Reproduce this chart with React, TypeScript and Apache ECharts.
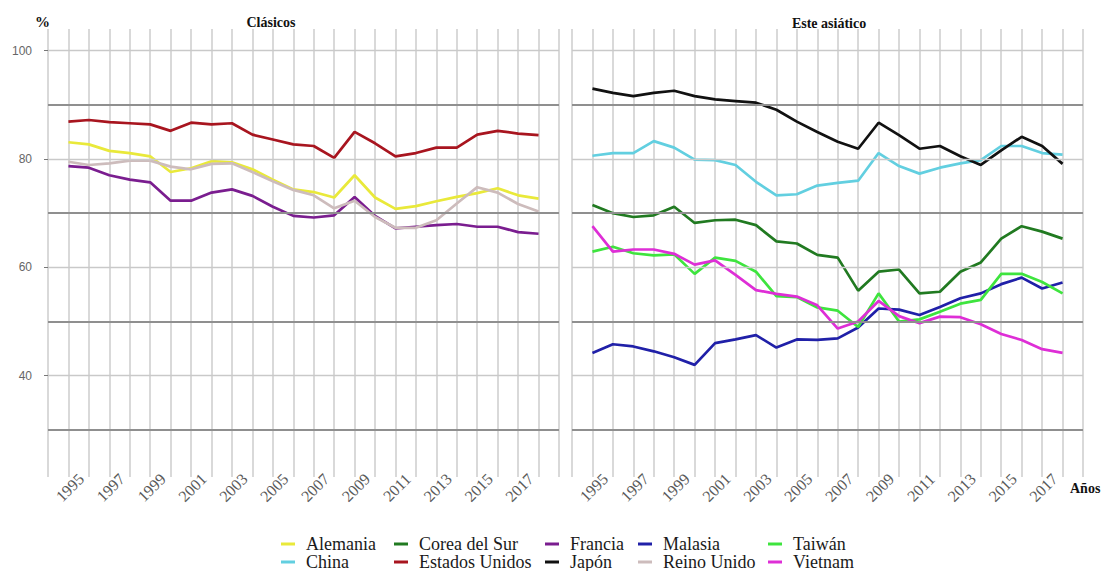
import React, { useEffect, useRef } from "react";
import * as echarts from "echarts";

const years = [1995, 1996, 1997, 1998, 1999, 2000, 2001, 2002, 2003, 2004, 2005, 2006, 2007, 2008, 2009, 2010, 2011, 2012, 2013, 2014, 2015, 2016, 2017, 2018];
const tickLabels = ["1995", "1997", "1999", "2001", "2003", "2005", "2007", "2009", "2011", "2013", "2015", "2017"];
const yLabels = [40, 60, 80, 100];
const gridValues = [30, 40, 50, 60, 70, 80, 90, 100];

const alemania = [83.1, 82.7, 81.5, 81.1, 80.5, 77.6, 78.3, 79.6, 79.4, 78.1, 76.2, 74.4, 73.9, 72.9, 77.0, 72.9, 70.8, 71.3, 72.2, 73.0, 73.7, 74.6, 73.3, 72.7];
const estadosUnidos = [86.9, 87.2, 86.8, 86.6, 86.4, 85.2, 86.7, 86.4, 86.6, 84.5, 83.6, 82.7, 82.4, 80.2, 85.0, 82.9, 80.5, 81.1, 82.1, 82.1, 84.5, 85.2, 84.7, 84.4];
const francia = [78.7, 78.4, 77.0, 76.2, 75.7, 72.3, 72.3, 73.8, 74.4, 73.2, 71.2, 69.5, 69.2, 69.6, 73.0, 69.5, 67.2, 67.5, 67.8, 68.0, 67.5, 67.5, 66.5, 66.2];
const reinoUnido = [79.5, 78.9, 79.2, 79.7, 79.7, 78.6, 78.1, 79.1, 79.2, 77.6, 75.9, 74.3, 73.3, 70.9, 72.3, 69.3, 67.3, 67.3, 68.7, 71.8, 74.8, 73.8, 71.7, 70.3];

const japon = [93.0, 92.2, 91.6, 92.2, 92.6, 91.6, 91.0, 90.7, 90.4, 89.1, 86.9, 85.0, 83.2, 81.9, 86.7, 84.4, 81.9, 82.4, 80.5, 78.9, 81.6, 84.1, 82.4, 79.1];
const china = [80.6, 81.1, 81.1, 83.3, 82.1, 79.9, 79.8, 78.9, 75.8, 73.3, 73.5, 75.1, 75.6, 76.0, 81.1, 78.7, 77.3, 78.4, 79.2, 79.8, 82.4, 82.4, 81.1, 80.8];
const corea = [71.5, 70.0, 69.3, 69.6, 71.2, 68.2, 68.7, 68.8, 67.8, 64.8, 64.4, 62.3, 61.8, 55.7, 59.2, 59.6, 55.2, 55.5, 59.2, 60.9, 65.3, 67.6, 66.6, 65.3];
const taiwan = [62.9, 63.8, 62.6, 62.2, 62.4, 58.8, 61.8, 61.2, 59.2, 54.7, 54.5, 52.6, 52.0, 49.0, 55.2, 50.0, 50.4, 51.8, 53.3, 54.0, 58.8, 58.8, 57.3, 55.2];
const vietnam = [67.6, 62.9, 63.3, 63.3, 62.5, 60.5, 61.3, 58.6, 55.8, 55.1, 54.6, 53.0, 48.7, 50.0, 53.8, 51.0, 49.7, 50.9, 50.8, 49.5, 47.7, 46.6, 44.9, 44.2];
const malasia = [44.2, 45.8, 45.4, 44.5, 43.4, 42.0, 46.0, 46.7, 47.5, 45.2, 46.7, 46.6, 46.9, 48.9, 52.4, 52.2, 51.2, 52.7, 54.3, 55.2, 56.9, 58.1, 56.1, 57.2];

const seriesDefs = [
  { name: "Alemania", data: alemania, panel: 0, color: "#e9e93a" },
  { name: "China", data: china, panel: 1, color: "#62cfe0" },
  { name: "Corea del Sur", data: corea, panel: 1, color: "#217a21" },
  { name: "Estados Unidos", data: estadosUnidos, panel: 0, color: "#a8151f" },
  { name: "Francia", data: francia, panel: 0, color: "#7a1d8f" },
  { name: "Japón", data: japon, panel: 1, color: "#111111" },
  { name: "Malasia", data: malasia, panel: 1, color: "#2020a8" },
  { name: "Reino Unido", data: reinoUnido, panel: 0, color: "#cdbcbc" },
  { name: "Taiwán", data: taiwan, panel: 1, color: "#3ee43e" },
  { name: "Vietnam", data: vietnam, panel: 1, color: "#de2ed6" },
];

const legendRow1 = ["Alemania", "Corea del Sur", "Francia", "Malasia", "Taiwán"];
const legendRow2 = ["China", "Estados Unidos", "Japón", "Reino Unido", "Vietnam"];
const legendCols = [281, 394, 545, 638, 768];

export default function App() {
  const ref = useRef<HTMLDivElement>(null);
  useEffect(() => {
    if (!ref.current) return;
    const chart = echarts.init(ref.current, null, { renderer: "svg" });
    const gridLeft = [48, 572];
    const yMin = 21.3;
    const yMax = 104;

    const markLineData = gridValues.map((v) => ({
      yAxis: v,
      lineStyle: {
        color: v % 20 === 10 ? "#8f8f8f" : "#c9c9c9",
        width: v % 20 === 10 ? 1.8 : 1.4,
        type: "solid",
      },
    }));

    const series: any[] = [];
    [0, 1].forEach((p) => {
      series.push({
        type: "line",
        name: "_grid" + p,
        xAxisIndex: p,
        yAxisIndex: p,
        data: [],
        silent: true,
        z: 1,
        markLine: {
          silent: true,
          symbol: ["none", "none"],
          label: { show: false },
          animation: false,
          data: markLineData,
        },
      });
    });
    seriesDefs.forEach((s) => {
      series.push({
        type: "line",
        name: s.name,
        xAxisIndex: s.panel,
        yAxisIndex: s.panel,
        data: years.map((y, i) => [y, s.data[i]]),
        showSymbol: false,
        symbol: "none",
        lineStyle: { color: s.color, width: 2.7 },
        itemStyle: { color: s.color },
        z: 3,
      });
    });

    const legends: any[] = [];
    [legendRow1, legendRow2].forEach((row, r) => {
      row.forEach((name, c) => {
        legends.push({
          data: [name],
          left: legendCols[c],
          top: r === 0 ? 535 : 553,
          padding: 0,
          itemGap: 0,
          icon: "rect",
          itemWidth: 14,
          itemHeight: 3,
          selectedMode: false,
          textStyle: {
            fontFamily: "Liberation Serif",
            fontSize: 18,
            color: "#1a1a1a",
            padding: [0, 0, 0, 6],
          },
        });
      });
    });

    const option: any = {
      animation: false,
      backgroundColor: "#ffffff",
      grid: gridLeft.map((l) => ({ left: l, width: 511, top: 29, height: 448, containLabel: false, outerBoundsMode: "none" })),
      xAxis: [0, 1].map((p) => ({
        type: "value",
        gridIndex: p,
        min: 1994,
        max: 2019,
        interval: 1,
        axisLine: { show: false },
        axisTick: { show: false },
        splitLine: { show: true, lineStyle: { color: "#cccccc", width: 1.5 } },
        axisLabel: {
          show: true,
          rotate: 45,
          align: "center",
          verticalAlign: "middle",
          margin: 12,
          padding: [0, 0, 0, 4],
          fontFamily: "Liberation Serif",
          fontSize: 16,
          color: "#5a5a5a",
          formatter: (v: number) => (tickLabels.includes(String(v)) ? String(v) : ""),
        },
      })),
      yAxis: [0, 1].map((p) => ({
        type: "value",
        gridIndex: p,
        min: yMin,
        max: yMax,
        axisLine: { show: false },
        splitLine: { show: false },
        axisTick: p === 0 ? { show: true, length: 4, customValues: yLabels, lineStyle: { color: "#777" } } : { show: false },
        axisLabel:
          p === 0
            ? {
                show: true,
                customValues: yLabels,
                margin: 16,
                align: "right",
                verticalAlign: "middle",
                fontFamily: "Liberation Sans",
                fontSize: 12,
                color: "#666666",
              }
            : { show: false },
      })),
      legend: legends,
      graphic: [
        {
          type: "text",
          left: 35,
          top: 14,
          style: { text: "%", fontFamily: "Liberation Serif", fontWeight: "bold", fontSize: 15, fill: "#111" },
        },
        {
          type: "text",
          x: 271,
          y: 22,
          style: { text: "Clásicos", fontFamily: "Liberation Serif", fontWeight: "bold", fontSize: 14, fill: "#111", textAlign: "center", textVerticalAlign: "middle" },
        },
        {
          type: "text",
          x: 829,
          y: 23,
          style: { text: "Este asiático", fontFamily: "Liberation Serif", fontWeight: "bold", fontSize: 14, fill: "#111", textAlign: "center", textVerticalAlign: "middle" },
        },
        {
          type: "text",
          x: 1070,
          y: 488,
          style: { text: "Años", fontFamily: "Liberation Serif", fontWeight: "bold", fontSize: 14, fill: "#111", textAlign: "left", textVerticalAlign: "middle" },
        },
      ],
      series,
    };
    chart.setOption(option);
    return () => chart.dispose();
  }, []);
  return (
    <div
      ref={ref}
      style={{ position: "fixed", left: 0, top: 0, width: 1101, height: 571, background: "#fff" }}
    />
  );
}
